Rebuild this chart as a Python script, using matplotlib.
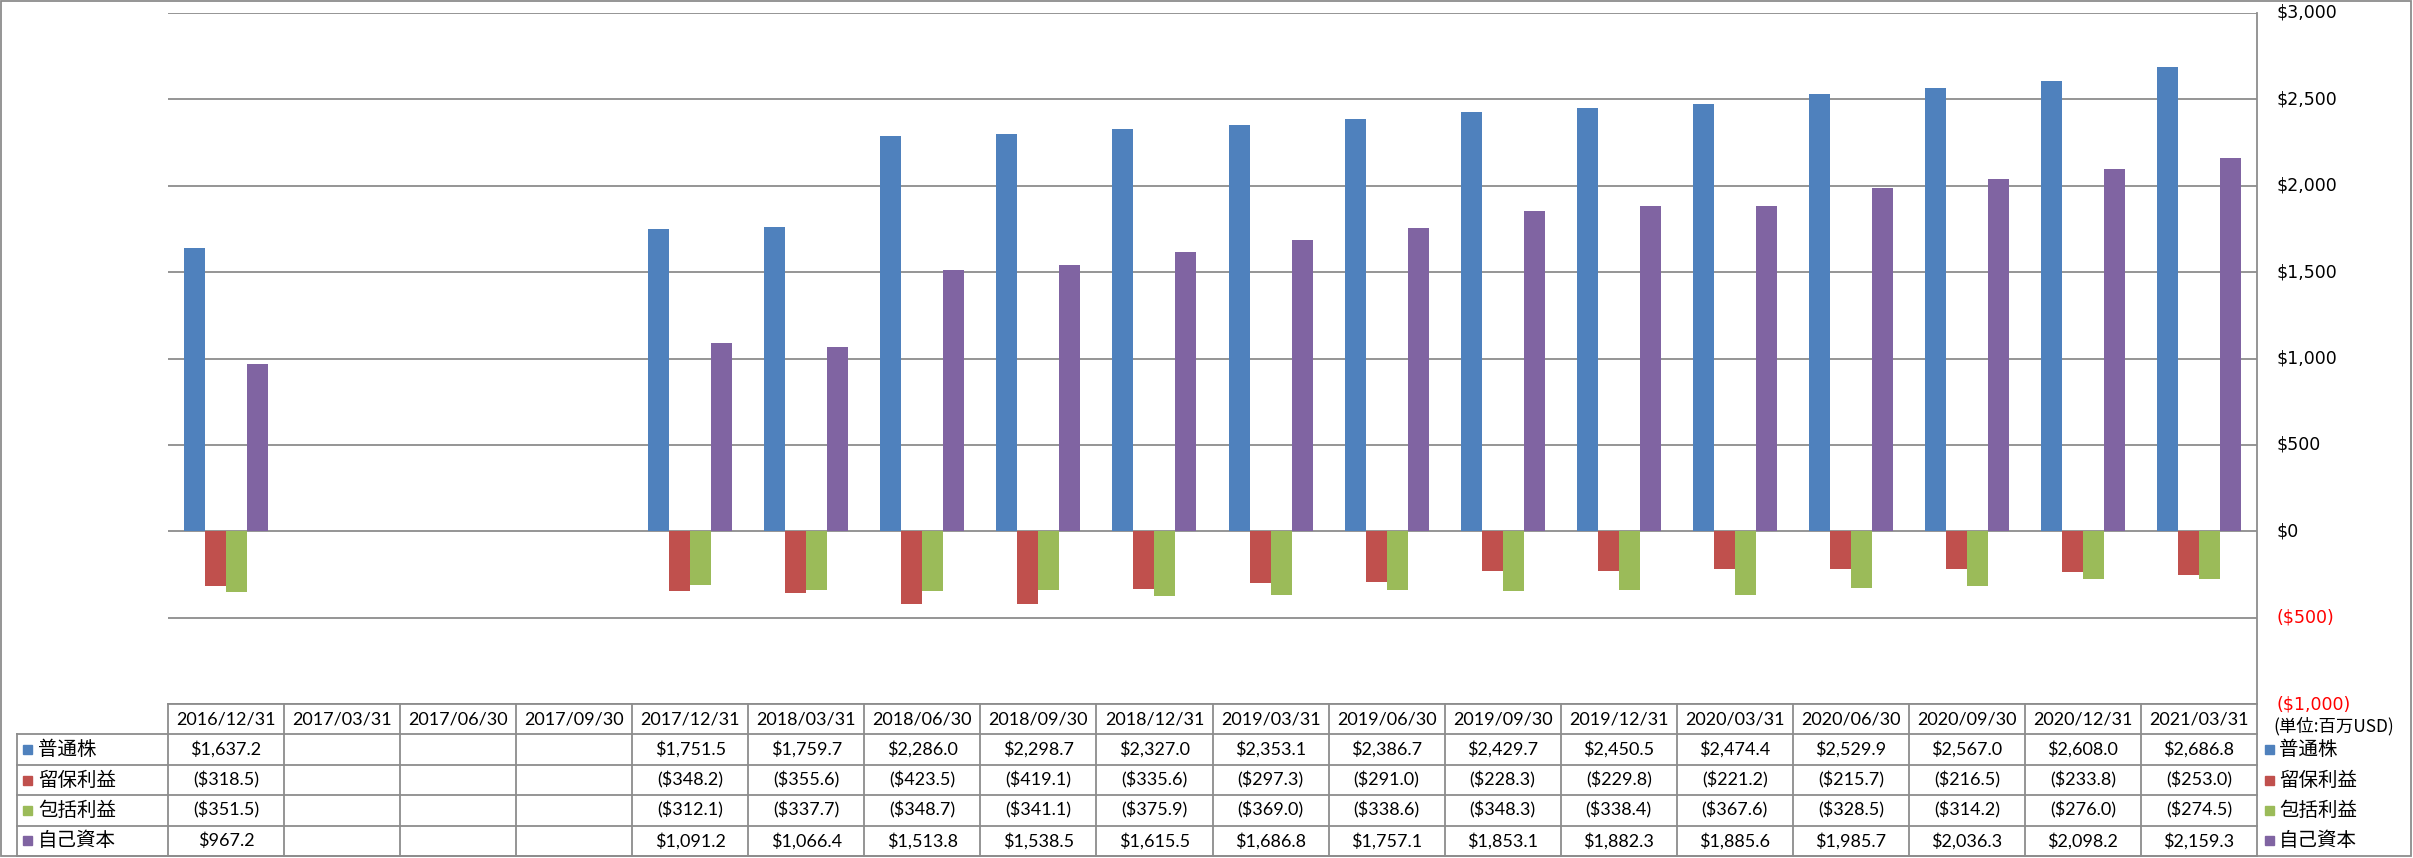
import numpy as np
import matplotlib.pyplot as plt
from matplotlib.lines import Line2D
from matplotlib.patches import Rectangle

plt.rcParams['font.family'] = ['DejaVu Sans', 'Noto Sans CJK JP']

# データ (単位:百万USD)
dates = ['2016/12/31', '2017/03/31', '2017/06/30', '2017/09/30', '2017/12/31',
         '2018/03/31', '2018/06/30', '2018/09/30', '2018/12/31', '2019/03/31',
         '2019/06/30', '2019/09/30', '2019/12/31', '2020/03/31', '2020/06/30',
         '2020/09/30', '2020/12/31', '2021/03/31']
nan = np.nan
common = [1637.2, nan, nan, nan, 1751.5, 1759.7, 2286.0, 2298.7, 2327.0, 2353.1,
          2386.7, 2429.7, 2450.5, 2474.4, 2529.9, 2567.0, 2608.0, 2686.8]
retained = [-318.5, nan, nan, nan, -348.2, -355.6, -423.5, -419.1, -335.6, -297.3,
            -291.0, -228.3, -229.8, -221.2, -215.7, -216.5, -233.8, -253.0]
comprehensive = [-351.5, nan, nan, nan, -312.1, -337.7, -348.7, -341.1, -375.9, -369.0,
                 -338.6, -348.3, -338.4, -367.6, -328.5, -314.2, -276.0, -274.5]
equity = [967.2, nan, nan, nan, 1091.2, 1066.4, 1513.8, 1538.5, 1615.5, 1686.8,
          1757.1, 1853.1, 1882.3, 1885.6, 1985.7, 2036.3, 2098.2, 2159.3]
names = ['普通株', '留保利益', '包括利益', '自己資本']
colors = ['#4F81BD', '#C0504D', '#9BBB59', '#8064A2']
yticks = [-1000, -500, 0, 500, 1000, 1500, 2000, 2500, 3000]

series = [common, retained, comprehensive, equity]

W, H = 2413, 858
fig = plt.figure(figsize=(W / 100, H / 100), dpi=100)

# レイアウト (ピクセル)
px_l, px_r = 168, 2257
px_top, px_bot = 13, 704
row_h = 30.4
grid_c = '#8C8C8C'

ax = fig.add_axes([px_l / W, 1 - px_bot / H, (px_r - px_l) / W, (px_bot - px_top) / H])
n = len(dates)
x = np.arange(n)
bw = 0.181
for k, (vals, c) in enumerate(zip(series, colors)):
    ax.bar(x + (k - 1.5) * bw, vals, width=bw, color=c, zorder=3)

ax.set_xlim(-0.5, n - 0.5)
ax.set_ylim(-1000, 3000)
ax.set_yticks(yticks)
ax.yaxis.tick_right()
ax.tick_params(axis='y', length=0, pad=14.4, labelsize=12.5)
ax.set_xticks([])
ax.grid(axis='y', color=grid_c, linewidth=1.3, zorder=0)
for s in ['left', 'top', 'bottom']:
    ax.spines[s].set_visible(False)
ax.spines['right'].set_color(grid_c)
ax.spines['right'].set_linewidth(1.3)


def money(v):
    if v < 0:
        return f'(${-v:,.0f})'
    return f'${v:,.0f}'


labels = [money(v) for v in yticks]
ax.set_yticklabels(labels)
for t, v in zip(ax.get_yticklabels(), yticks):
    t.set_color('red' if v < 0 else 'black')
    t.set_verticalalignment('center')

# データテーブル (ピクセル座標の重ね合わせ)
tab = fig.add_axes([0, 0, 1, 1], facecolor='none')
tab.set_xlim(0, W)
tab.set_ylim(H, 0)
tab.axis('off')

cw = (px_r - px_l) / n
tfont = ['Lato', 'Noto Sans CJK JP']
jfont = ['Noto Sans CJK JP', 'DejaVu Sans']
tsize = 13

lw = 1.3
rows_top = px_bot + row_h
tab_bot = px_bot + row_h * 5
# 横線
tab.add_line(Line2D([px_l, px_r], [px_bot, px_bot], color=grid_c, lw=lw))
for r in range(1, 6):
    yy = px_bot + row_h * r
    tab.add_line(Line2D([17, px_r], [yy, yy], color=grid_c, lw=lw))
# 縦線
tab.add_line(Line2D([17, 17], [rows_top, tab_bot], color=grid_c, lw=lw))
for i in range(n + 1):
    xx = px_l + cw * i
    tab.add_line(Line2D([xx, xx], [px_bot, tab_bot], color=grid_c, lw=lw))

for i, d in enumerate(dates):
    tab.text(px_l + cw * (i + 0.5), px_bot + row_h * 0.5, d, ha='center', va='center',
             family=tfont, fontsize=tsize)


def cell(v):
    if np.isnan(v):
        return ''
    if v < 0:
        return f'(${-v:,.1f})'
    return f'${v:,.1f}'


for r, (nm, vals, c) in enumerate(zip(names, series, colors)):
    yc = rows_top + row_h * (r + 0.5)
    tab.add_patch(Rectangle((23, yc - 4.5), 9, 9, color=c))
    tab.text(38, yc, nm, ha='left', va='center', family=jfont, fontsize=14)
    for i, v in enumerate(vals):
        tab.text(px_l + cw * (i + 0.5), yc, cell(v), ha='center', va='center',
                 family=tfont, fontsize=tsize)
    # 右側の凡例
    tab.add_patch(Rectangle((2265, yc - 4.5), 9, 9, color=c))
    tab.text(2279, yc, nm, ha='left', va='center', family=jfont, fontsize=14)

tab.text(2273, 726, '(単位:百万USD)', ha='left', va='center', family=jfont, fontsize=12.5)

# 外枠
tab.add_patch(Rectangle((1, 1), W - 3, H - 3, fill=False, edgecolor=grid_c, lw=1.3))

fig.savefig('out.png', dpi=100)
